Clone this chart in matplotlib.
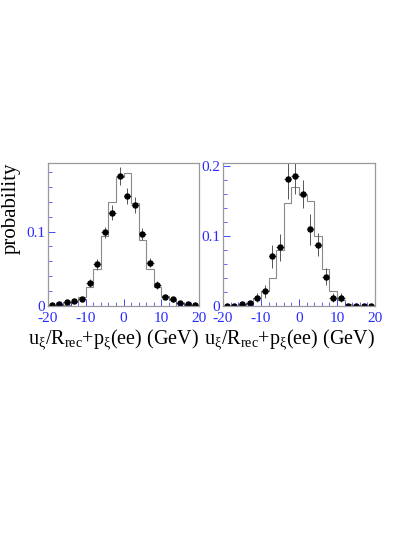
import numpy as np
import matplotlib
matplotlib.use('Agg')
import matplotlib.pyplot as plt
from matplotlib.ticker import MultipleLocator

plt.rcParams['font.family'] = ['Liberation Serif', 'DejaVu Serif']
plt.rcParams['mathtext.fontset'] = 'custom'
plt.rcParams['mathtext.rm'] = 'Liberation Serif'
plt.rcParams['mathtext.it'] = 'Liberation Serif'
plt.rcParams['axes.unicode_minus'] = False

# bins of 2 GeV from -20 to 20
edges = np.arange(-20, 21, 2)
centers = [-19, -17, -15, -13, -11, -9, -7, -5, -3, -1,
           1, 3, 5, 7, 9, 11, 13, 15, 17, 19]

# left panel: histogram (MC) and points (data)
hist_left = [0.0005, 0.001, 0.002, 0.005, 0.012, 0.025, 0.050, 0.094, 0.140, 0.173,
             0.179, 0.138, 0.088, 0.050, 0.026, 0.014, 0.008, 0.004, 0.002, 0.001]
pts_left = [0.001, 0.0023, 0.006, 0.007, 0.009, 0.031, 0.056, 0.099, 0.125, 0.175,
            0.148, 0.136, 0.097, 0.058, 0.028, 0.012, 0.009, 0.0035, 0.0023, 0.001]
err_left = [0.001, 0.0015, 0.002, 0.002, 0.0025, 0.0055, 0.007, 0.0075, 0.010, 0.012,
            0.011, 0.011, 0.008, 0.006, 0.005, 0.003, 0.003, 0.002, 0.0015, 0.001]

# right panel
hist_right = [0.0, 0.0, 0.001, 0.003, 0.012, 0.022, 0.040, 0.080, 0.148, 0.171,
              0.159, 0.151, 0.101, 0.053, 0.021, 0.008, 0.003, 0.001, 0.0, 0.0]
pts_right = [0.0005, 0.0005, 0.0034, 0.004, 0.012, 0.021, 0.071, 0.084, 0.182, 0.187,
             0.161, 0.110, 0.088, 0.042, 0.012, 0.012, 0.0005, 0.0005, 0.0005, 0.0005]
err_right = [0.0005, 0.0005, 0.003, 0.003, 0.006, 0.009, 0.016, 0.019, 0.028, 0.026,
             0.020, 0.022, 0.016, 0.012, 0.006, 0.006, 0.0005, 0.0005, 0.0005, 0.0005]

blue = '#2a2aff'
frame = '#9a9a9a'
xlabel = r'u$_{\xi}$/R$_{\rm rec}$+p$_{\xi}$(ee) (GeV)'

fig = plt.figure(figsize=(4.15, 5.37), dpi=100)
W, H = 415, 537
ax1 = fig.add_axes([48 / W, (H - 306) / H, 151 / W, 143 / H])
ax2 = fig.add_axes([223 / W, (H - 306) / H, 152 / W, 143 / H])

panels = [(ax1, hist_left, pts_left, err_left, 0.192),
          (ax2, hist_right, pts_right, err_right, 0.205)]

for ax, hist, pts, err, ymax in panels:
    ax.stairs(hist, edges, color='#8a8a8a', lw=0.8)
    ax.errorbar(centers, pts, yerr=err, xerr=1.0, fmt='o', color='black',
                ms=3.6, ecolor='#555555', elinewidth=0.7, capsize=0)
    ax.set_xlim(-20, 20)
    ax.set_ylim(0, ymax)
    ax.xaxis.set_major_locator(MultipleLocator(10))
    ax.xaxis.set_minor_locator(MultipleLocator(2))
    ax.yaxis.set_major_locator(MultipleLocator(0.1))
    ax.yaxis.set_minor_locator(MultipleLocator(0.02))
    ax.yaxis.set_major_formatter(plt.FuncFormatter(lambda v, p: '0' if v == 0 else '%g' % v))
    ax.tick_params(which='both', direction='in', colors=blue, labelsize=11,
                   top=False, right=False)
    ax.tick_params(axis='x', pad=4)
    ax.tick_params(axis='y', pad=2)
    ax.tick_params(which='major', length=5, width=0.6)
    ax.tick_params(which='minor', length=3, width=0.5)
    for s in ax.spines.values():
        s.set_color(frame)
        s.set_linewidth(0.9)
    ax.set_xlabel(xlabel, fontsize=14.5, loc='right', labelpad=2)

ax1.set_ylabel('probability', fontsize=15, loc='top', labelpad=4)

fig.savefig('out.png', dpi=100)
